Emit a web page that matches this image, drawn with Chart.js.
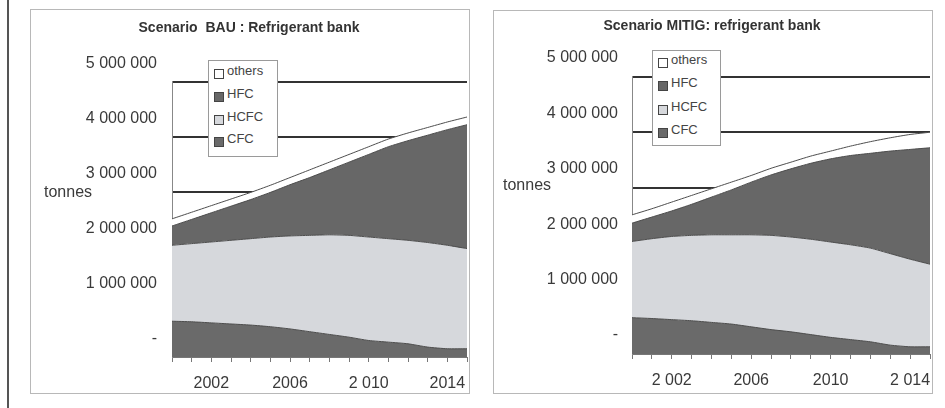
<!DOCTYPE html>
<html>
<head>
<meta charset="utf-8">
<script src="https://cdn.jsdelivr.net/npm/chart.js@4.4.1/dist/chart.umd.min.js"></script>
<style>
  html, body { margin: 0; padding: 0; background: #fff; }
  body { width: 945px; height: 408px; position: relative; overflow: hidden; font-family: 'Liberation Sans', Arial, sans-serif; }
  .edge { position: absolute; left: 7px; top: 0; width: 2px; height: 408px; background: #555; }
  .panel { position: absolute; border: 1px solid #b8b8b8; }
  .panel canvas { position: absolute; left: 0; top: 0; }
  .unit { position: absolute; font-size: 16px; color: #3a3a3a; }
  .legend { position: absolute; border: 1px solid #9a9a9a; background: #fff; box-sizing: border-box; }
  .legend .item { position: absolute; left: 5px; font-size: 13px; color: #444; white-space: nowrap; }
  .legend .sw { display: inline-block; width: 8px; height: 8px; border: 1px solid #444; margin-right: 3px; vertical-align: -4px; }
</style>
</head>
<body>
<div class="edge"></div>

<div class="panel" id="panel-bau" style="left:30px; top:9px; width:438px; height:383px;">
  <canvas id="chart-bau" width="438" height="383"></canvas>
  <div class="unit" style="left:13px; top:173px;">tonnes</div>
  <div class="legend" id="legend-bau" style="left:177px; top:50px; width:70px; height:97px;"></div>
</div>

<div class="panel" id="panel-mitig" style="left:493px; top:10px; width:438px; height:382px;">
  <canvas id="chart-mitig" width="438" height="382"></canvas>
  <div class="unit" style="left:9px; top:165px;">tonnes</div>
  <div class="legend" id="legend-mitig" style="left:158px; top:39px; width:69px; height:96px;"></div>
</div>

<script>
// years on the category axis
const years = [2000, 2001, 2002, 2003, 2004, 2005, 2006, 2007, 2008, 2009, 2010, 2011, 2012, 2013, 2014, 2015];

// tick labels as printed on each panel
const bauYearLabels = { 2002: '2002', 2006: '2006', 2010: '2 010', 2014: '2014' };
const mitigYearLabels = { 2002: '2 002', 2006: '2006', 2010: '2010', 2014: '2 014' };
const tonneTicks = [0, 1000000, 2000000, 3000000, 4000000, 5000000];
const tonneLabels = ['-', '1 000 000', '2 000 000', '3 000 000', '4 000 000', '5 000 000'];

// BAU scenario, tonnes
const bauCFC = [650000, 640000, 620000, 600000, 580000, 550000, 510000, 460000, 410000, 360000, 300000, 270000, 240000, 180000, 150000, 150000];
const bauHCFC = [1380000, 1420000, 1470000, 1520000, 1570000, 1630000, 1690000, 1750000, 1810000, 1850000, 1880000, 1880000, 1880000, 1900000, 1880000, 1820000];
const bauHFC = [350000, 440000, 530000, 620000, 710000, 810000, 930000, 1050000, 1180000, 1330000, 1500000, 1670000, 1810000, 1950000, 2100000, 2250000];
const bauOthers = [130000, 130000, 130000, 130000, 130000, 130000, 130000, 140000, 140000, 140000, 140000, 140000, 140000, 140000, 140000, 140000];

// MITIG scenario, tonnes
const mitigCFC = [655000, 640000, 620000, 600000, 570000, 540000, 490000, 440000, 400000, 350000, 300000, 260000, 220000, 160000, 130000, 130000];
const mitigHCFC = [1375000, 1440000, 1500000, 1540000, 1580000, 1610000, 1660000, 1700000, 1710000, 1720000, 1720000, 1710000, 1690000, 1650000, 1580000, 1490000];
const mitigHFC = [330000, 390000, 460000, 560000, 680000, 810000, 950000, 1090000, 1230000, 1370000, 1500000, 1610000, 1710000, 1850000, 1980000, 2100000];
const mitigOthers = [150000, 150000, 160000, 160000, 150000, 140000, 120000, 120000, 120000, 130000, 140000, 170000, 210000, 240000, 270000, 280000];

const colors = { CFC: '#6a6a6a', HCFC: '#d6d8dc', HFC: '#676767', others: '#ffffff' };

Chart.defaults.font.family = "'Liberation Sans', Arial, sans-serif";
Chart.defaults.color = '#3a3a3a';

const layer = (label, data, fill) => ({
    label,
    data,
    fill,
    backgroundColor: colors[label],
    borderColor: '#4d4d4d',
    borderWidth: 1,
    pointRadius: 0,
    tension: 0.2,
});

const buildChart = (ctxId, title, series, yearLabels, dims) => {
    const ctx = document.getElementById(ctxId);
    return new Chart(ctx, {
        type: 'line',
        data: {
            labels: years,
            datasets: [
                layer('CFC', series.cfc, 'origin'),
                layer('HCFC', series.hcfc, '-1'),
                layer('HFC', series.hfc, '-1'),
                layer('others', series.others, '-1'),
            ],
        },
        options: {
            responsive: false,
            animation: false,
            devicePixelRatio: 1,
            layout: { padding: { left: 0, right: 2, top: 0, bottom: 0 } },
            plugins: {
                legend: { display: false },
                tooltip: { enabled: false },
                title: {
                    display: true,
                    text: title,
                    color: '#333',
                    font: { size: 14, weight: 'bold' },
                    padding: { top: dims.titleTop, bottom: dims.titleBottom },
                },
            },
            scales: {
                x: {
                    grid: { drawOnChartArea: false, drawTicks: true, tickLength: 5, color: '#777' },
                    border: { color: '#777', width: 1 },
                    ticks: {
                        autoSkip: false,
                        maxRotation: 0,
                        padding: 12,
                        font: { size: 16 },
                        color: '#3a3a3a',
                        callback: (val, idx) => yearLabels[years[idx]] || '',
                    },
                    afterFit: (scale) => {
                        scale.height = dims.xHeight;
                        scale.paddingLeft = 0;
                        scale.paddingRight = 0;
                    },
                },
                y: {
                    stacked: true,
                    min: 0,
                    max: 5000000,
                    afterBuildTicks: (scale) => { scale.ticks = tonneTicks.map((v) => ({ value: v })); },
                    grid: { color: '#333', lineWidth: 2, drawTicks: false },
                    border: { color: '#888', width: 1 },
                    ticks: {
                        padding: dims.yPad,
                        labelOffset: dims.labelOffset,
                        font: { size: 16 },
                        color: '#3a3a3a',
                        callback: (val) => tonneLabels[tonneTicks.indexOf(val)],
                    },
                    afterFit: (scale) => { scale.width = dims.yWidth; },
                },
            },
        },
    });
};

const fillLegend = (boxId, chart, rows) => {
    const box = document.getElementById(boxId);
    const items = chart.data.datasets.slice().reverse();
    items.forEach((ds, i) => {
        const row = document.createElement('div');
        row.className = 'item';
        row.style.top = rows[i] + 'px';
        row.innerHTML = `<span class="sw" style="background:${ds.backgroundColor}"></span>${ds.label}`;
        box.appendChild(row);
    });
};

const initCharts = () => {
    const bau = buildChart('chart-bau', 'Scenario  BAU : Refrigerant bank',
        { cfc: bauCFC, hcfc: bauHCFC, hfc: bauHFC, others: bauOthers }, bauYearLabels,
        { titleTop: 10, titleBottom: 45, xHeight: 36, yWidth: 141, yPad: 15, labelOffset: -18 });
    const mitig = buildChart('chart-mitig', 'Scenario MITIG: refrigerant bank',
        { cfc: mitigCFC, hcfc: mitigHCFC, hfc: mitigHFC, others: mitigOthers }, mitigYearLabels,
        { titleTop: 7, titleBottom: 42, xHeight: 39, yWidth: 138, yPad: 14, labelOffset: -19 });
    fillLegend('legend-bau', bau, [2, 25, 48, 70]);
    fillLegend('legend-mitig', mitig, [1, 24, 48, 71]);
};

initCharts();
</script>
</body>
</html>
